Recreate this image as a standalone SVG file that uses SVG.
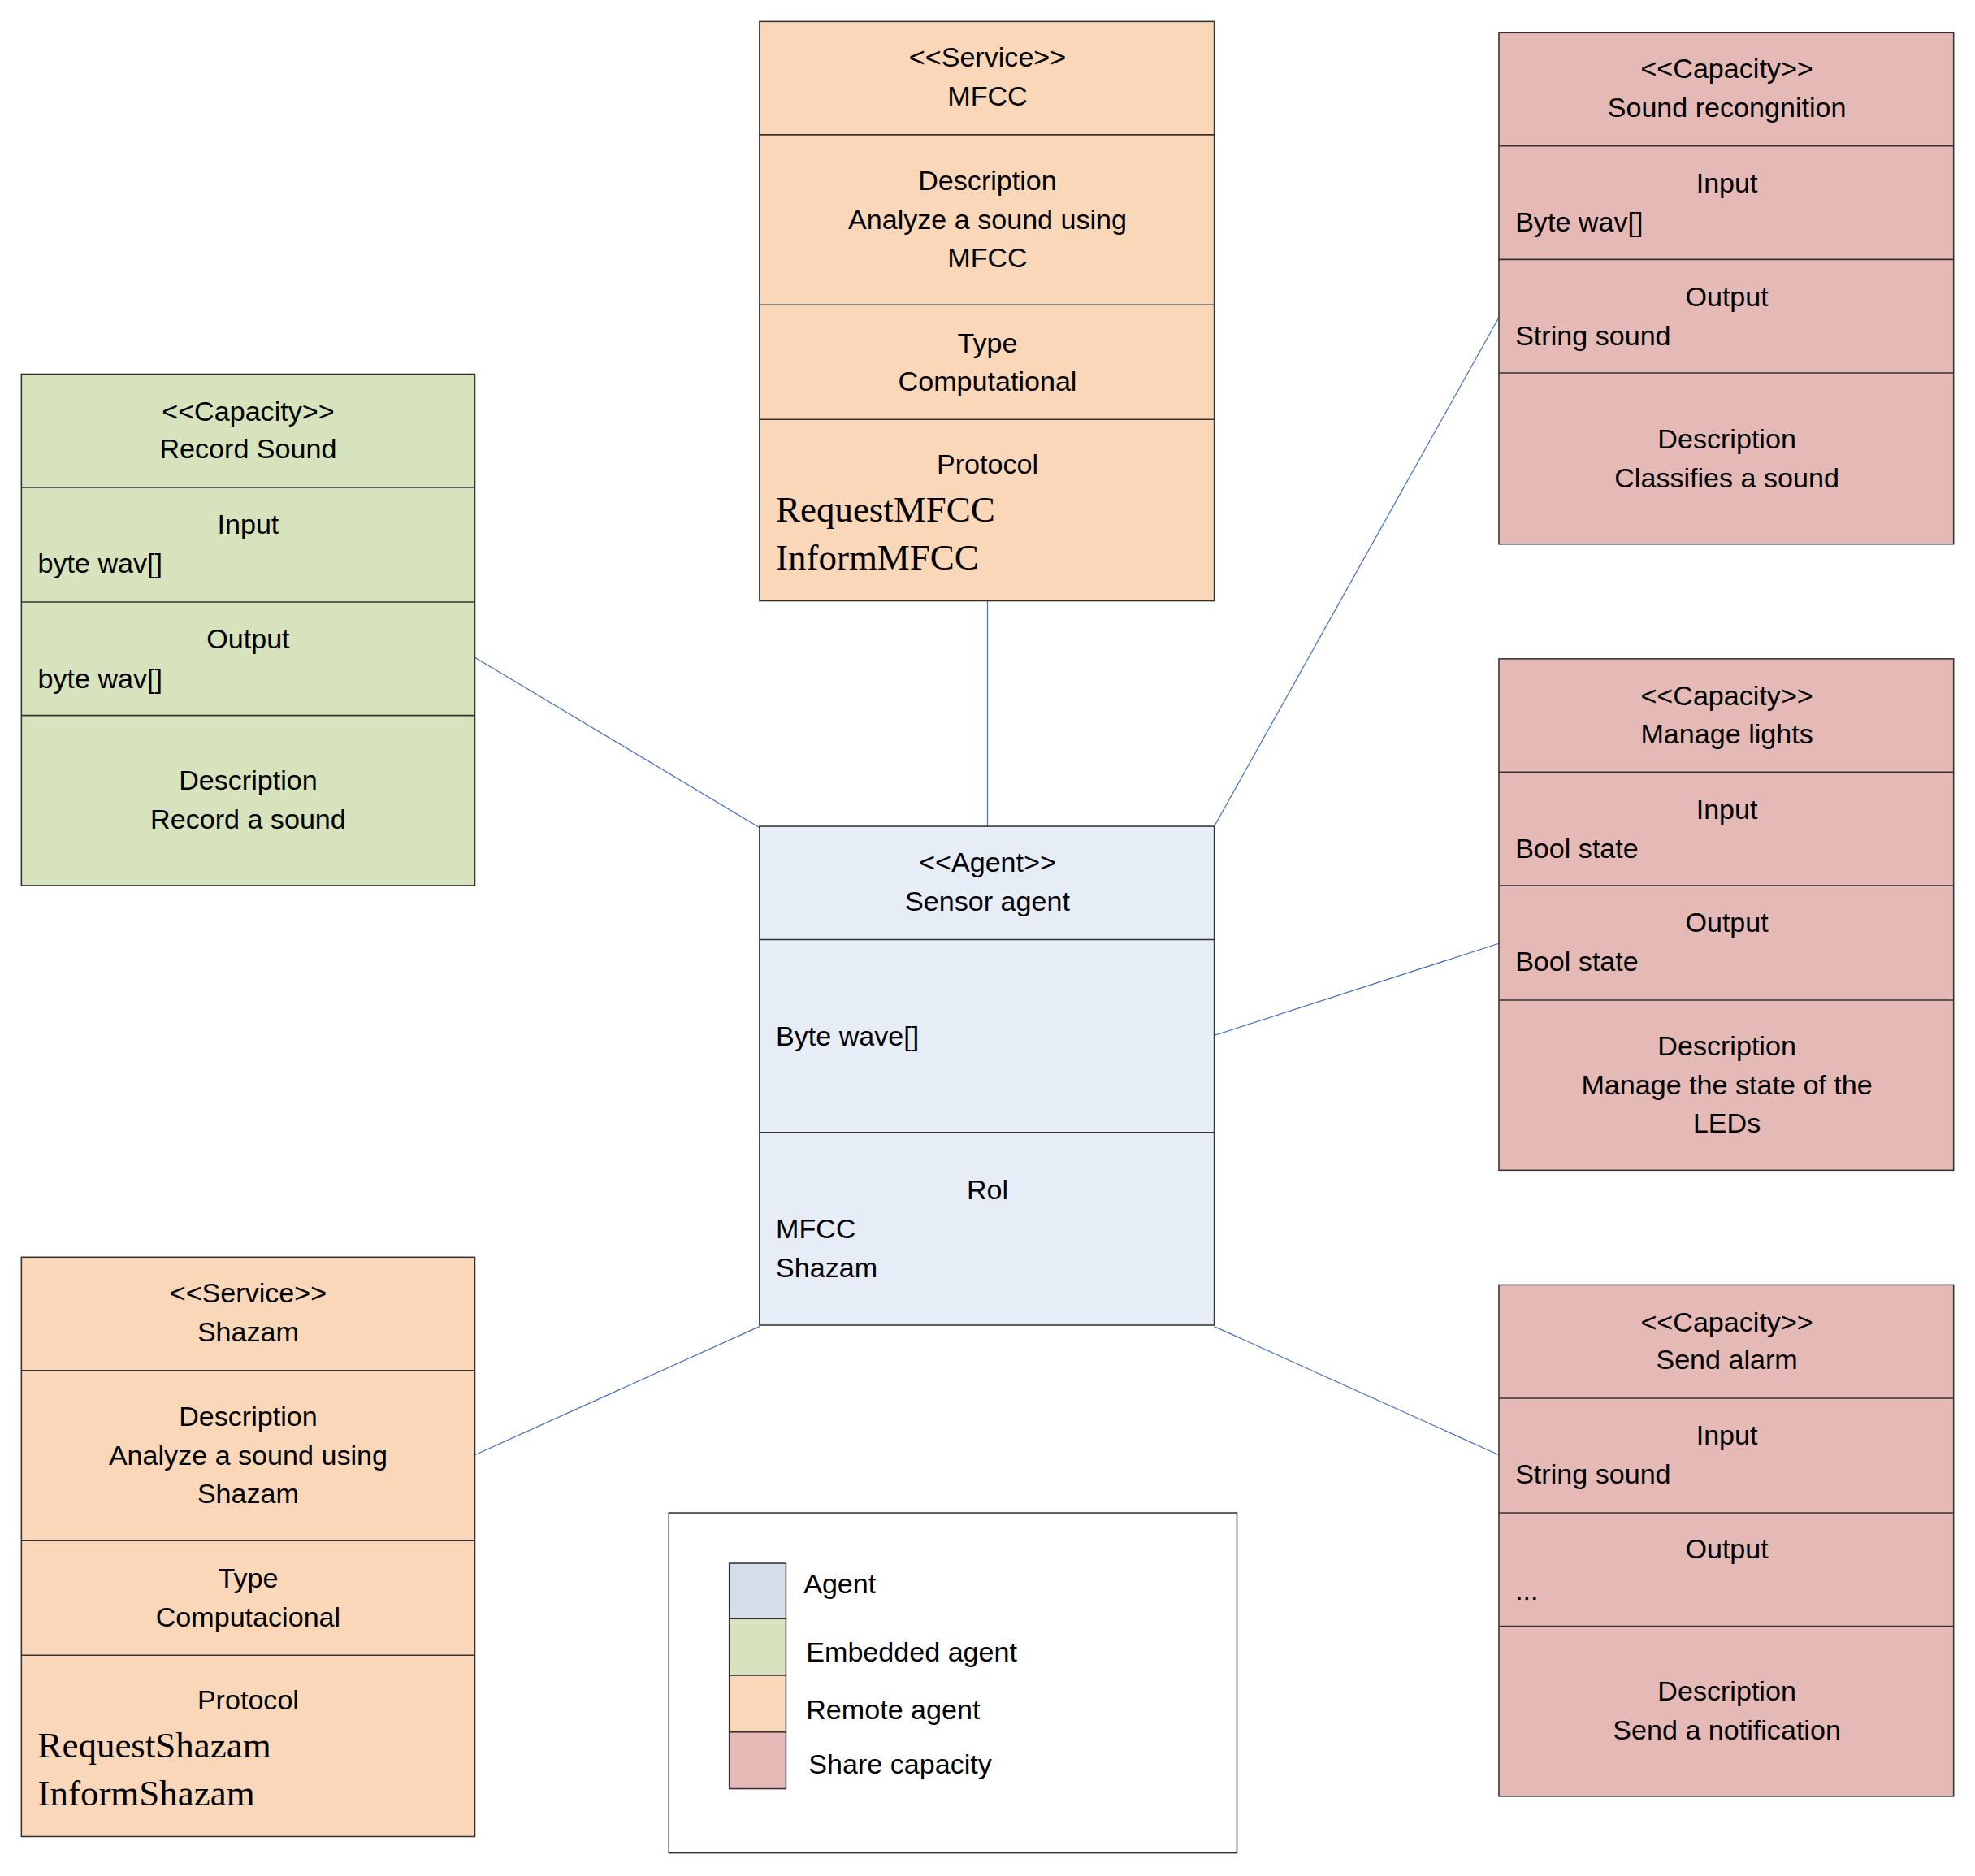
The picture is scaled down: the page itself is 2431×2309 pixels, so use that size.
<svg xmlns="http://www.w3.org/2000/svg" width="2431" height="2309" viewBox="0 0 2431 2309">
<style>
.b{stroke:#333;stroke-width:1}
.o{fill:#FAD7B9}.g{fill:#D7E3BC}.p{fill:#E5B9B5}.a{fill:#E6EDF7}
.d{stroke:#333;stroke-width:1}
text{font-family:"Liberation Sans",Arial,sans-serif;font-size:22px;fill:#000}
.c{text-anchor:middle}
.t{font-family:"Liberation Serif","Times New Roman",serif;font-size:29px}
.l{stroke:#4472C4;stroke-width:0.8;fill:none}
</style>
<rect width="2431" height="2309" fill="#fff"/>
<g transform="scale(1.5504)">
<g id="connectors">
<line class="l" x1="377" y1="522" x2="603" y2="657"/>
<line class="l" x1="784" y1="477" x2="784" y2="656"/>
<line class="l" x1="1190" y1="252" x2="964" y2="656"/>
<line class="l" x1="1190" y1="749" x2="964" y2="822"/>
<line class="l" x1="377" y1="1155" x2="603" y2="1053"/>
<line class="l" x1="1190" y1="1155" x2="964" y2="1053"/>
</g>
<g id="mfcc">
<rect class="o b" x="603" y="17" width="361" height="460"/>
<line class="d" x1="603" y1="107" x2="964" y2="107"/><line class="d" x1="603" y1="242" x2="964" y2="242"/><line class="d" x1="603" y1="333" x2="964" y2="333"/>
<text class="c" x="784" y="53">&lt;&lt;Service&gt;&gt;</text><text class="c" x="784" y="84">MFCC</text>
<text class="c" x="784" y="151">Description</text><text class="c" x="784" y="182">Analyze a sound using</text><text class="c" x="784" y="212">MFCC</text>
<text class="c" x="784" y="280">Type</text><text class="c" x="784" y="310">Computational</text>
<text class="c" x="784" y="376">Protocol</text><text class="t" x="616" y="414">RequestMFCC</text><text class="t" x="616" y="452">InformMFCC</text>
</g>
<g id="record">
<rect class="g b" x="17" y="297" width="360" height="406"/>
<line class="d" x1="17" y1="387" x2="377" y2="387"/><line class="d" x1="17" y1="478" x2="377" y2="478"/><line class="d" x1="17" y1="568" x2="377" y2="568"/>
<text class="c" x="197" y="334">&lt;&lt;Capacity&gt;&gt;</text><text class="c" x="197" y="364">Record Sound</text>
<text class="c" x="197" y="424">Input</text><text x="30" y="455">byte wav[]</text>
<text class="c" x="197" y="515">Output</text><text x="30" y="546">byte wav[]</text>
<text class="c" x="197" y="627">Description</text><text class="c" x="197" y="658">Record a sound</text>
</g>
<g id="soundrec">
<rect class="p b" x="1190" y="26" width="361" height="406"/>
<line class="d" x1="1190" y1="116" x2="1551" y2="116"/><line class="d" x1="1190" y1="206" x2="1551" y2="206"/><line class="d" x1="1190" y1="296" x2="1551" y2="296"/>
<text class="c" x="1371" y="62">&lt;&lt;Capacity&gt;&gt;</text><text class="c" x="1371" y="93">Sound recongnition</text>
<text class="c" x="1371" y="153">Input</text><text x="1203" y="184">Byte wav[]</text>
<text class="c" x="1371" y="243">Output</text><text x="1203" y="274">String sound</text>
<text class="c" x="1371" y="356">Description</text><text class="c" x="1371" y="387">Classifies a sound</text>
</g>
<g id="lights">
<rect class="p b" x="1190" y="523" width="361" height="406"/>
<line class="d" x1="1190" y1="613" x2="1551" y2="613"/><line class="d" x1="1190" y1="703" x2="1551" y2="703"/><line class="d" x1="1190" y1="794" x2="1551" y2="794"/>
<text class="c" x="1371" y="560">&lt;&lt;Capacity&gt;&gt;</text><text class="c" x="1371" y="590">Manage lights</text>
<text class="c" x="1371" y="650">Input</text><text x="1203" y="681">Bool state</text>
<text class="c" x="1371" y="740">Output</text><text x="1203" y="771">Bool state</text>
<text class="c" x="1371" y="838">Description</text><text class="c" x="1371" y="869">Manage the state of the</text><text class="c" x="1371" y="899">LEDs</text>
</g>
<g id="agent">
<rect class="a b" x="603" y="656" width="361" height="396"/>
<line class="d" x1="603" y1="746" x2="964" y2="746"/><line class="d" x1="603" y1="899" x2="964" y2="899"/>
<text class="c" x="784" y="692">&lt;&lt;Agent&gt;&gt;</text><text class="c" x="784" y="723">Sensor agent</text>
<text x="616" y="830">Byte wave[]</text>
<text class="c" x="784" y="952">Rol</text><text x="616" y="983">MFCC</text><text x="616" y="1014">Shazam</text>
</g>
<g id="shazam">
<rect class="o b" x="17" y="998" width="360" height="460"/>
<line class="d" x1="17" y1="1088" x2="377" y2="1088"/><line class="d" x1="17" y1="1223" x2="377" y2="1223"/><line class="d" x1="17" y1="1314" x2="377" y2="1314"/>
<text class="c" x="197" y="1034">&lt;&lt;Service&gt;&gt;</text><text class="c" x="197" y="1065">Shazam</text>
<text class="c" x="197" y="1132">Description</text><text class="c" x="197" y="1163">Analyze a sound using</text><text class="c" x="197" y="1193">Shazam</text>
<text class="c" x="197" y="1260">Type</text><text class="c" x="197" y="1291">Computacional</text>
<text class="c" x="197" y="1357">Protocol</text><text class="t" x="30" y="1395">RequestShazam</text><text class="t" x="30" y="1433">InformShazam</text>
</g>
<g id="alarm">
<rect class="p b" x="1190" y="1020" width="361" height="406"/>
<line class="d" x1="1190" y1="1110" x2="1551" y2="1110"/><line class="d" x1="1190" y1="1201" x2="1551" y2="1201"/><line class="d" x1="1190" y1="1291" x2="1551" y2="1291"/>
<text class="c" x="1371" y="1057">&lt;&lt;Capacity&gt;&gt;</text><text class="c" x="1371" y="1087">Send alarm</text>
<text class="c" x="1371" y="1147">Input</text><text x="1203" y="1178">String sound</text>
<text class="c" x="1371" y="1237">Output</text><text x="1203" y="1270">...</text>
<text class="c" x="1371" y="1350">Description</text><text class="c" x="1371" y="1381">Send a notification</text>
</g>
<g id="legend">
<rect x="531" y="1201" width="451" height="270" fill="#fff" class="b"/>
<rect x="579" y="1241" width="45" height="44" fill="#D3DEEA" class="b"/>
<rect x="579" y="1285" width="45" height="45" class="g b"/>
<rect x="579" y="1330" width="45" height="45" class="o b"/>
<rect x="579" y="1375" width="45" height="45" class="p b"/>
<text x="638" y="1265">Agent</text>
<text x="640" y="1319">Embedded agent</text>
<text x="640" y="1365">Remote agent</text>
<text x="642" y="1408">Share capacity</text>
</g>
</g>
</svg>
